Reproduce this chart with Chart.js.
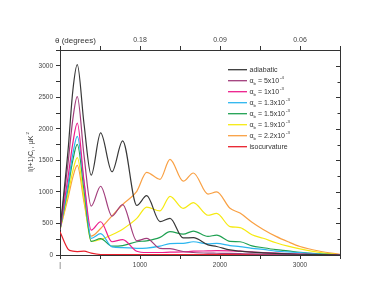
<!DOCTYPE html>
<html><head><meta charset="utf-8">
<script src="https://cdn.jsdelivr.net/npm/chart.js@4"></script>
<style>html,body{margin:0;padding:0;background:#fff}#wrap{width:381px;height:293px}</style>
</head><body><div id="wrap"><canvas id="c" width="381" height="293"></canvas></div>
<script>
// multipole grid (l) shared by all series
const ells = [0,100,160,216,300,390,508,650,783,960,1083,1250,1375,1540,1667,1850,1958,2125,2250,2400,2540,2700,2850,3000,3250,3500];
const adiabatic = [400,1650,2600,3017,2080,1265,1935,1320,1810,785,940,530,580,270,275,160,135,80,60,45,35,25,18,12,5,0];
const ab5e4 = [400,1450,2150,2510,1580,775,1090,617,800,225,262,105,100,55,40,30,28,25,22,18,15,12,8,5,2,0];
const ab1e3 = [400,1230,1770,2090,1170,395,527,210,245,60,40,40,45,50,60,65,68,65,60,48,38,30,22,15,5,0];
const ab13e3 = [400,1120,1600,1880,1150,265,340,130,118,105,110,140,180,185,210,175,185,150,132,105,88,60,48,37,12,0];
const ab15e3 = [400,1060,1500,1755,1030,215,260,140,150,210,225,280,370,330,380,295,315,215,210,145,115,85,65,42,18,0];
const ab19e3 = [400,960,1330,1545,900,215,245,320,410,580,760,700,930,740,830,630,660,450,435,320,265,195,140,98,40,5];
const ab22e3 = [400,900,1230,1420,840,300,420,620,800,1010,1310,1200,1515,1170,1300,965,1000,740,665,520,405,295,210,135,60,12];
const isocurvature = [370,95,62,55,60,30,8,5,5,5,5,5,5,5,5,5,5,5,5,5,5,5,5,5,5,3];

const seriesLabels = ['adiabatic','α_b = 5x10^{-4}','α_b = 1x10^{-3}','α_b = 1.3x10^{-3}','α_b = 1.5x10^{-3}','α_b = 1.9x10^{-3}','α_b = 2.2x10^{-3}','isocurvature'];
const seriesValues = [adiabatic, ab5e4, ab1e3, ab13e3, ab15e3, ab19e3, ab22e3, isocurvature];
const seriesColors = ['#383838','#a23e7c','#ec1e8c','#2cb6ef','#1fa152','#f6ea12','#f9a043','#e8202c'];

const xTicksLabeled = [1000,2000,3000];
const yTitle = 'l(l+1)C_l , μK^2';
const topTitle = 'θ (degrees)';

const FONT = '"Liberation Sans", Arial, sans-serif';

function parseRich(s){
  const segs=[]; let i=0, cur='';
  while(i<s.length){
    const ch=s[i];
    if(ch==='_'||ch==='^'){
      if(cur){segs.push({t:cur,m:0});cur='';}
      let txt;
      if(s[i+1]==='{'){const j=s.indexOf('}',i);txt=s.slice(i+2,j);i=j+1;}
      else{txt=s[i+1];i+=2;}
      segs.push({t:txt,m:ch==='_'?-1:1});
    } else {cur+=ch;i++;}
  }
  if(cur)segs.push({t:cur,m:0});
  return segs;
}
function drawRich(ctx,s,x,y,size){
  const segs=parseRich(s);
  ctx.textBaseline='middle'; ctx.textAlign='left';
  for(const g of segs){
    if(g.m===0){ctx.font=size+'px '+FONT;ctx.fillText(g.t,x,y);x+=ctx.measureText(g.t).width;}
    else{
      const ss=size*0.62; ctx.font=ss+'px '+FONT;
      const dy=g.m<0? size*0.38 : -size*0.42;
      x+= g.m>0?1:0;
      ctx.fillText(g.t,x,y+dy); x+=ctx.measureText(g.t).width;
    }
  }
  return x;
}

const overlay={
  id:'overlay',
  afterDraw(chart){
    const ctx=chart.ctx; ctx.save(); ctx.fillStyle='#333';
    // inward ticks on the right axis
    const y2=chart.scales.y2, ca=chart.chartArea;
    ctx.strokeStyle=axisColor; ctx.lineWidth=1;
    for(let v=0; v<=3250; v+=250){
      const py=Math.round(y2.getPixelForValue(v))+0.5;
      const len=v%500===0?4:2.5;
      ctx.beginPath(); ctx.moveTo(ca.right,py); ctx.lineTo(ca.right-len,py); ctx.stroke();
    }
    // legend
    const lx0=228, lx1=247, tx=249.5, y0=69.7, dy=11;
    seriesLabels.forEach((lab,i)=>{
      const y=y0+i*dy;
      ctx.strokeStyle=seriesColors[i]; ctx.lineWidth=1.3;
      ctx.beginPath(); ctx.moveTo(lx0,y); ctx.lineTo(lx1,y); ctx.stroke();
      ctx.fillStyle='#333';
      drawRich(ctx,lab,tx,y,7);
    });
    // top axis title
    ctx.font='8px '+FONT; ctx.textBaseline='middle'; ctx.textAlign='left';
    ctx.fillText(topTitle,55,41);
    // y title rotated
    ctx.translate(31,152); ctx.rotate(-Math.PI/2);
    const segs=parseRich(yTitle);
    let w=0; for(const g of segs){ctx.font=(g.m?7*0.62:7)+'px '+FONT; w+=ctx.measureText(g.t).width+(g.m>0?1:0);}
    drawRich(ctx,yTitle,-w/2,0,7);
    ctx.restore();
  }
};

const axisColor='#333';
const tickFont={size:6.5,family:FONT};
function fixSize(prop,val){return function(scale){scale[prop]=val;};}

new Chart(document.getElementById('c'),{
  type:'line',
  data:{datasets:seriesValues.map((vals,i)=>({
    label:seriesLabels[i],
    data:ells.map((l,k)=>({x:l,y:vals[k]})),
    borderColor:seriesColors[i], borderWidth:1.2, pointRadius:0,
    cubicInterpolationMode:'monotone', fill:false
  }))},
  options:{
    responsive:false, animation:false, devicePixelRatio:1,
    layout:{padding:0},
    plugins:{legend:{display:false},tooltip:{enabled:false}},
    scales:{
      x:{type:'linear',position:'bottom',min:0,max:3500,
        afterFit:fixSize('height',38),
        ticks:{stepSize:500,autoSkip:false,maxRotation:0,padding:2,color:'#444',font:tickFont,
          callback:v=>v===0?'|':(xTicksLabeled.includes(v)?String(v):'')},
        grid:{drawOnChartArea:false,tickLength:4,color:axisColor},
        border:{color:axisColor,width:1}},
      x2:{type:'linear',position:'top',min:0,max:3500,
        afterFit:fixSize('height',50),
        ticks:{stepSize:500,autoSkip:false,maxRotation:0,padding:2,color:'#444',font:{size:7,family:FONT},
          callback:v=>xTicksLabeled.includes(v)?(180/v).toFixed(2):''},
        grid:{drawOnChartArea:false,tickLength:4,color:axisColor},
        border:{color:axisColor,width:1}},
      y:{type:'linear',position:'left',min:0,max:3250,
        afterFit:fixSize('width',60),
        ticks:{stepSize:250,autoSkip:false,padding:3,color:'#444',font:tickFont,
          callback:v=>v%500===0?String(v):''},
        grid:{drawOnChartArea:false,tickLength:4,color:axisColor},
        border:{color:axisColor,width:1}},
      y2:{type:'linear',position:'right',min:0,max:3250,
        afterFit:fixSize('width',41),
        ticks:{stepSize:250,autoSkip:false,padding:0,font:tickFont,callback:()=>''},
        grid:{drawOnChartArea:false,drawTicks:false,tickLength:0,color:axisColor},
        border:{color:axisColor,width:1}}
    }
  },
  plugins:[overlay]
});
</script></body></html>
